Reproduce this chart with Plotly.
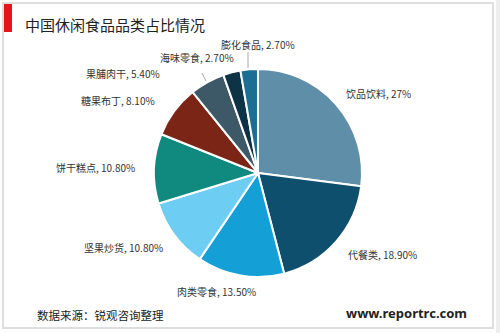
import plotly.graph_objects as go

categories = ["饮品饮料", "代餐类", "肉类零食", "坚果炒货", "饼干糕点", "糖果布丁", "果脯肉干", "海味零食", "膨化食品"]
values = [27, 18.9, 13.5, 10.8, 10.8, 8.1, 5.4, 2.7, 2.7]
value_labels = ["27%", "18.90%", "13.50%", "10.80%", "10.80%", "8.10%", "5.40%", "2.70%", "2.70%"]
colors = ["#5f8fa8", "#0d4f6c", "#14a0d6", "#6dcdf3", "#10897f", "#7b2516", "#3d5866", "#0f3346", "#1c6f93"]

W, H = 500, 333
# label positions (pixel, text centre) -- layout styling
label_px = [(378, 93), (382, 254), (216, 291), (123, 247), (95, 168), (118, 101), (123, 73), (197, 57), (258, 45)]

cx, cy, r = 258, 173, 104

fig = go.Figure(go.Pie(
    labels=categories, values=values, sort=False, direction="clockwise", rotation=0,
    marker=dict(colors=colors, line=dict(color="white", width=2)),
    textinfo="none", hoverinfo="label+percent", showlegend=False,
    domain=dict(x=[(cx - r) / W, (cx + r) / W], y=[(H - cy - r) / H, (H - cy + r) / H]),
))

ann = []
for cat, vl, (px, py) in zip(categories, value_labels, label_px):
    ann.append(dict(x=px / W, y=1 - py / H, xref="paper", yref="paper", text=f"{cat}, {vl}",
                    showarrow=False, font=dict(size=10, color="#333", family="Noto Sans CJK SC"),
                    xanchor="center", yanchor="middle"))

ann.append(dict(x=23 / W, y=1 - 24 / H, xref="paper", yref="paper", text="中国休闲食品品类占比情况",
                showarrow=False, font=dict(size=15, color="#222", family="Noto Sans CJK SC"),
                xanchor="left", yanchor="middle"))
ann.append(dict(x=35 / W, y=1 - 315 / H, xref="paper", yref="paper", text="数据来源：锐观咨询整理",
                showarrow=False, font=dict(size=11.5, color="#222", family="Noto Sans CJK SC"),
                xanchor="left", yanchor="middle"))
ann.append(dict(x=406 / W, y=1 - 313 / H, xref="paper", yref="paper", text="<b>www.reportrc.com</b>",
                showarrow=False, font=dict(size=13, color="#222", family="Noto Sans"),
                xanchor="center", yanchor="middle"))

def line(x0, y0, x1, y1, color="#aaa", width=1):
    return dict(type="line", xref="paper", yref="paper", x0=x0 / W, y0=1 - y0 / H, x1=x1 / W, y1=1 - y1 / H,
                line=dict(color=color, width=width))

shapes = [
    dict(type="rect", xref="paper", yref="paper", x0=3 / W, y0=1 - 328 / H, x1=493 / W, y1=1 - 3 / H,
         line=dict(color="#dedede", width=2), fillcolor="rgba(0,0,0,0)", layer="below"),
    dict(type="rect", xref="paper", yref="paper", x0=496 / W, y0=0, x1=1, y1=1,
         line=dict(width=0), fillcolor="#eeeeee", layer="below"),
    dict(type="rect", xref="paper", yref="paper", x0=4 / W, y0=1 - 32 / H, x1=12 / W, y1=1 - 4 / H,
         line=dict(width=0), fillcolor="#e8141c"),
    line(248, 52, 248, 68),
    line(202, 73, 206, 81),
]

fig.update_layout(width=W, height=H, margin=dict(l=0, r=0, t=0, b=0),
                  paper_bgcolor="white", plot_bgcolor="white",
                  annotations=ann, shapes=shapes)
fig.write_html("out.html")
